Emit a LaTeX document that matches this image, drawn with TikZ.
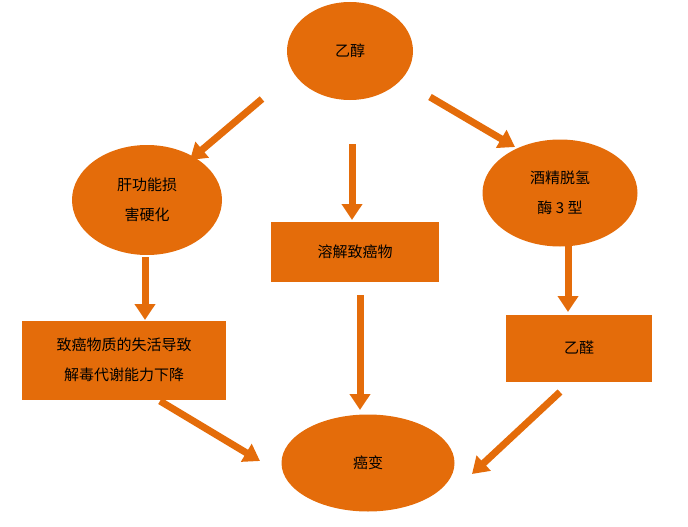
\documentclass[tikz,border=0pt]{standalone}
\usepackage{fontspec}
\setmainfont{Noto Sans CJK SC}
\usepackage{tikz}
\usetikzlibrary{shapes.geometric,arrows.meta,positioning}
\definecolor{orangebox}{HTML}{E46C0A}

\begin{document}
\begin{tikzpicture}
[x=1pt,y=-1pt,
baseshape/.style={fill=orangebox, draw=none, text=black, font=\fontsize{15pt}{30pt}\selectfont, align=center, inner sep=0pt},
oval/.style={baseshape, ellipse},
box/.style={baseshape, rectangle},
fatarrow/.style={orangebox, line width=7pt, -{Triangle[width=20pt,length=16pt]}},
]
    \useasboundingbox (0,0) rectangle (688,527);
    \node (ethanol) [oval, minimum width=126pt, minimum height=98pt] at (350,51) {乙醇};
    \node (liver) [oval, minimum width=150pt, minimum height=110pt] at (147,200) {肝功能损\\害硬化};
    \node (adh) [oval, minimum width=155pt, minimum height=107pt] at (560,193) {酒精脱氢\\酶 3 型};
    \node (dissolve) [box, minimum width=168pt, minimum height=60pt] at (355,252) {溶解致癌物};
    \node (detox) [box, minimum width=204pt, minimum height=79pt] at (124,360) {致癌物质的失活导致\\解毒代谢能力下降};
    \node (acet) [box, minimum width=146pt, minimum height=67pt] at (579,348) {乙醛};
    \node (cancer) [oval, minimum width=173pt, minimum height=97pt] at (368,463) {癌变};

    \coordinate (a1s) at (262,99);  \coordinate (a1e) at (190,160);
    \coordinate (a2s) at (430,97);  \coordinate (a2e) at (515,147);
    \coordinate (a3s) at (352,144); \coordinate (a3e) at (352,220);
    \coordinate (a4s) at (145,257); \coordinate (a4e) at (145,320);
    \coordinate (a5s) at (568,244); \coordinate (a5e) at (568,312);
    \coordinate (a6s) at (360,295); \coordinate (a6e) at (360,410);
    \coordinate (a7s) at (160,401); \coordinate (a7e) at (260,461);
    \coordinate (a8s) at (560,392); \coordinate (a8e) at (472,474);

    \foreach \s/\e in {a1s/a1e,a2s/a2e,a3s/a3e,a4s/a4e,a5s/a5e,a6s/a6e,a7s/a7e,a8s/a8e}
        \draw[fatarrow] (\s) -- (\e);
\end{tikzpicture}
\end{document}
